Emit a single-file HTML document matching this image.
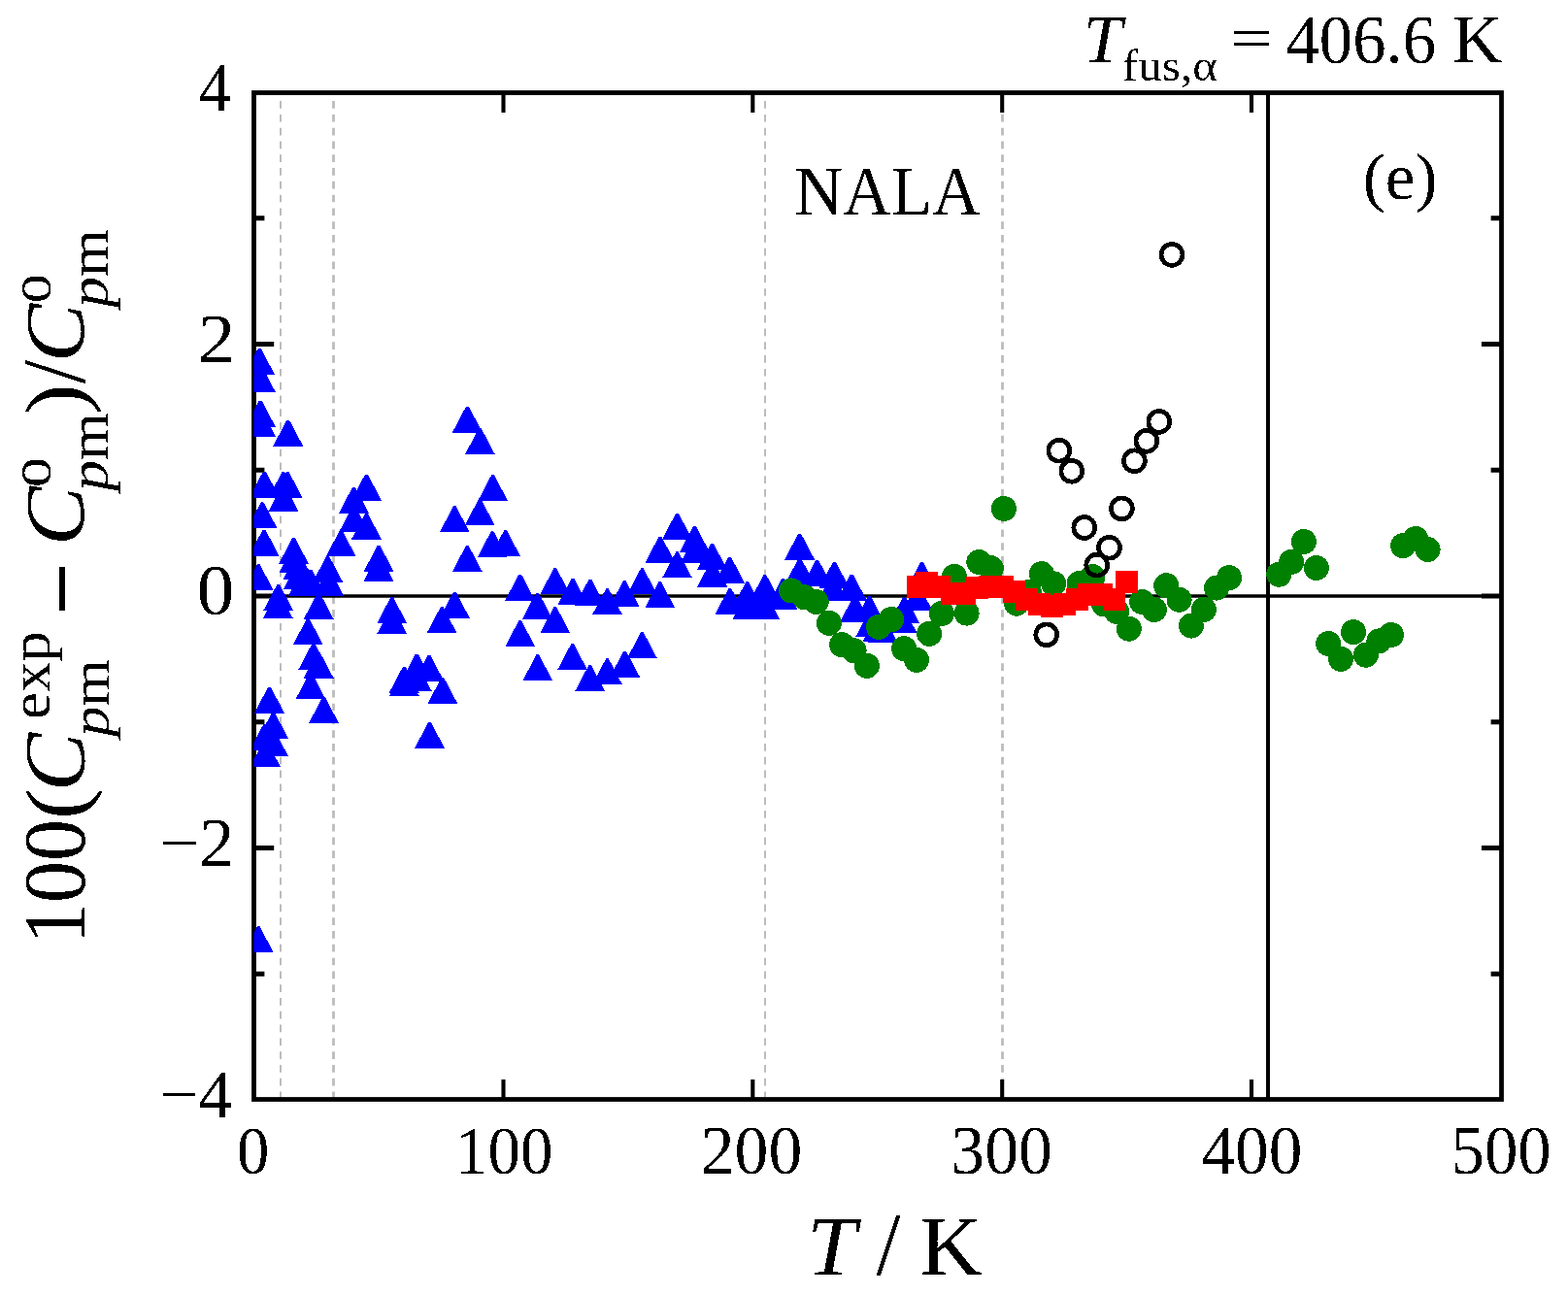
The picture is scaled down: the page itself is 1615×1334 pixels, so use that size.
<!DOCTYPE html><html><head><meta charset="utf-8"><title>NALA heat capacity deviations</title>
<style>html,body{margin:0;padding:0;background:#fff;}svg{display:block;}text{font-family:"Liberation Serif","Times New Roman",serif;fill:#000;}</style></head><body>
<svg width="1615" height="1334" viewBox="0 0 1615 1334">
<rect x="0" y="0" width="1615" height="1334" fill="#fff"/>
<defs><clipPath id="pa"><rect x="261.5" y="95.5" width="1285" height="1037"/></clipPath><filter id="al" x="0" y="0" width="1615" height="1334" filterUnits="userSpaceOnUse"><feComponentTransfer><feFuncA type="discrete" tableValues="0 1"/></feComponentTransfer></filter></defs>
<line x1="289.0" y1="104.1" x2="289.0" y2="1130" stroke="#bcbcbc" stroke-width="2.0" stroke-dasharray="7.7 6.09"/>
<line x1="343.5" y1="104.1" x2="343.5" y2="1130" stroke="#bcbcbc" stroke-width="2.8" stroke-dasharray="7.7 6.09"/>
<line x1="788.0" y1="104.1" x2="788.0" y2="1130" stroke="#bcbcbc" stroke-width="2.0" stroke-dasharray="7.7 6.09"/>
<line x1="1032.5" y1="104.1" x2="1032.5" y2="1130" stroke="#bcbcbc" stroke-width="2.8" stroke-dasharray="7.7 6.09"/>
<line x1="261.5" y1="614" x2="1546.5" y2="614" stroke="#000" stroke-width="3.7"/>
<line x1="1306" y1="95.5" x2="1306" y2="1132.5" stroke="#000" stroke-width="4"/>
<path d="M518.5 95.5V116 M518.5 1132.5V1112 M775.3 95.5V116 M775.3 1132.5V1112 M1032.2 95.5V116 M1032.2 1132.5V1112 M1289.0 95.5V116 M1289.0 1132.5V1112" stroke="#000" stroke-width="4.1" fill="none"/>
<path d="M261.5 354.50H282.2 M1546.5 354.50H1525.9 M261.5 614.00H282.2 M1546.5 614.00H1525.9 M261.5 873.50H282.2 M1546.5 873.50H1525.9 M261.5 224.75H272.4 M1546.5 224.75H1535.6 M261.5 484.25H272.4 M1546.5 484.25H1535.6 M261.5 743.75H272.4 M1546.5 743.75H1535.6 M261.5 1003.25H272.4 M1546.5 1003.25H1535.6" stroke="#000" stroke-width="4.9" fill="none"/>
<rect x="261.5" y="95.5" width="1285.0" height="1037.0" fill="none" stroke="#000" stroke-width="4.8"/>
<g clip-path="url(#pa)" shape-rendering="crispEdges">
<path d="M251.8 385.6H282.8L268.6 358.6H266.0ZM252.7 403.7H283.7L269.5 376.7H266.9ZM252.7 439.5H283.7L269.5 412.5H266.9ZM252.9 449.6H283.9L269.7 422.6H267.1ZM281.2 459.6H312.2L298.0 432.6H295.4ZM465.9 445.5H496.9L482.7 418.5H480.1ZM478.9 468.2H509.9L495.7 441.2H493.1ZM256.9 512.5H287.9L273.7 485.5H271.1ZM276.3 513.0H307.3L293.1 486.0H290.5ZM280.9 513.3H311.9L297.7 486.3H295.1ZM276.5 526.5H307.5L293.3 499.5H290.7ZM254.6 544.3H285.6L271.4 517.3H268.8ZM361.9 515.5H392.9L378.7 488.5H376.1ZM349.0 528.5H380.0L365.8 501.5H363.2ZM452.8 548.3H483.8L469.6 521.3H467.0ZM256.5 572.5H287.5L273.3 545.5H270.7ZM250.7 608.1H281.7L267.5 581.1H264.9ZM287.0 581.0H318.0L303.8 554.0H301.2ZM287.2 590.3H318.2L304.0 563.3H301.4ZM291.8 596.5H322.8L308.6 569.5H306.0ZM291.8 607.3H322.8L308.6 580.3H306.0ZM297.2 613.5H328.2L314.0 586.5H311.4ZM322.1 599.6H353.1L338.9 572.6H336.3ZM323.0 613.5H354.0L339.8 586.5H337.2ZM335.7 573.3H366.7L352.5 546.3H349.9ZM361.9 555.6H392.9L378.7 528.6H376.1ZM349.0 548.3H380.0L365.8 521.3H363.2ZM374.6 588.8H405.6L391.4 561.8H388.8ZM374.6 598.8H405.6L391.4 571.8H388.8ZM465.8 589.0H496.8L482.6 562.0H480.0ZM271.2 629.0H302.2L288.0 602.0H285.4ZM270.9 637.2H301.9L287.7 610.2H285.1ZM312.7 637.8H343.7L329.5 610.8H326.9ZM301.8 664.2H332.8L318.6 637.2H316.0ZM307.3 689.8H338.3L324.1 662.8H321.5ZM312.7 698.7H343.7L329.5 671.7H326.9ZM304.5 720.3H335.5L321.3 693.3H318.7ZM262.0 734.7H293.0L278.8 707.7H276.2ZM388.2 642.2H419.2L405.0 615.2H402.4ZM388.2 653.0H419.2L405.0 626.0H402.4ZM452.8 636.7H483.8L469.6 609.7H467.0ZM439.6 652.2H470.6L456.4 625.2H453.8ZM413.8 700.5H444.8L430.6 673.5H428.0ZM426.5 702.0H457.5L443.3 675.0H440.7ZM400.9 713.5H431.9L417.7 686.5H415.1ZM413.7 711.8H444.7L430.5 684.8H427.9ZM400.9 717.2H431.9L417.7 690.2H415.1ZM440.4 725.0H471.4L457.2 698.0H454.6ZM266.0 760.7H297.0L282.8 733.7H280.2ZM257.3 772.7H288.3L274.1 745.7H271.5ZM265.8 778.7H296.8L282.6 751.7H280.0ZM257.7 789.5H288.7L274.5 762.5H271.9ZM318.0 745.0H349.0L334.8 718.0H332.2ZM427.0 770.9H458.0L443.8 743.9H441.2ZM250.8 981.4H281.8L267.6 954.4H265.0ZM492.1 516.1H523.1L508.9 489.1H506.3ZM478.7 541.2H509.7L495.5 514.2H492.9ZM491.6 574.3H522.6L508.4 547.3H505.8ZM505.1 573.2H536.1L521.9 546.2H519.3ZM520.2 618.6H551.2L537.0 591.6H534.4ZM556.3 612.2H587.3L573.1 585.2H570.5ZM574.4 622.8H605.4L591.2 595.8H588.6ZM592.4 623.6H623.4L609.2 596.6H606.6ZM610.0 633.3H641.0L626.8 606.3H624.2ZM627.8 625.1H658.8L644.6 598.1H642.0ZM645.9 612.4H676.9L662.7 585.4H660.1ZM664.2 626.4H695.2L681.0 599.4H678.4ZM538.0 637.5H569.0L554.8 610.5H552.2ZM556.3 652.0H587.3L573.1 625.0H570.5ZM520.2 666.2H551.2L537.0 639.2H534.4ZM538.3 701.3H569.3L555.1 674.3H552.5ZM574.1 690.2H605.1L590.9 663.2H588.3ZM592.2 712.1H623.2L609.0 685.1H606.4ZM610.0 705.3H641.0L626.8 678.3H624.2ZM628.1 697.6H659.1L644.9 670.6H642.3ZM645.9 678.2H676.9L662.7 651.2H660.1ZM682.0 555.6H713.0L698.8 528.6H696.2ZM699.9 568.8H730.9L716.7 541.8H714.1ZM664.5 579.6H695.5L681.3 552.6H678.7ZM682.0 595.4H713.0L698.8 568.4H696.2ZM718.0 586.7H749.0L734.8 559.7H732.2ZM718.1 604.5H749.1L734.9 577.5H732.3ZM701.0 579.7H732.0L717.8 552.7H715.2ZM736.0 600.5H767.0L752.8 573.5H750.2ZM754.2 626.2H785.2L771.0 599.2H768.4ZM772.4 619.0H803.4L789.2 592.0H786.6ZM736.4 633.0H767.4L753.2 606.0H750.6ZM754.2 638.4H785.2L771.0 611.4H768.4ZM771.9 637.6H802.9L788.7 610.6H786.1ZM790.5 628.0H821.5L807.3 601.0H804.7ZM808.1 576.5H839.1L824.9 549.5H822.3ZM808.3 602.0H839.3L825.1 575.0H822.5ZM826.1 603.6H857.1L842.9 576.6H840.3ZM843.9 605.6H874.9L860.7 578.6H858.1ZM861.8 618.5H892.8L878.6 591.5H876.0ZM865.1 640.6H896.1L881.9 613.6H879.3ZM880.0 641.0H911.0L896.8 614.0H894.2ZM916.0 641.7H947.0L932.8 614.7H930.2ZM888.5 661.2H919.5L905.3 634.2H902.7ZM842.1 618.8H873.1L858.9 591.8H856.3ZM791.0 623.0H822.0L807.8 596.0H805.2ZM881.2 656.1H912.2L898.0 629.1H895.4ZM893.5 661.8H924.5L910.3 634.8H907.7ZM304.5 613.7H335.5L321.3 586.7H318.7ZM934.0 606.0H965.0L950.8 579.0H948.2ZM929.7 629.4H960.7L946.5 602.4H943.9ZM913.2 651.5H944.2L930.0 624.5H927.4Z" fill="#0000ff"/>
<g fill="#008000">
<circle cx="815.2" cy="608.4" r="13"/>
<circle cx="828.5" cy="615.2" r="13"/>
<circle cx="840.7" cy="620" r="13"/>
<circle cx="853.9" cy="641.8" r="13"/>
<circle cx="867.1" cy="664.2" r="13"/>
<circle cx="879.6" cy="670.2" r="13"/>
<circle cx="892.9" cy="685.8" r="13"/>
<circle cx="905" cy="645.9" r="13"/>
<circle cx="918.1" cy="638" r="13"/>
<circle cx="931.1" cy="668.2" r="13"/>
<circle cx="944" cy="679.8" r="13"/>
<circle cx="957.1" cy="652.8" r="13"/>
<circle cx="970" cy="632" r="13"/>
<circle cx="982.9" cy="593.9" r="13"/>
<circle cx="995.6" cy="631.6" r="13"/>
<circle cx="1008.3" cy="579" r="13"/>
<circle cx="1020.8" cy="585.2" r="13"/>
<circle cx="1034" cy="524" r="13"/>
<circle cx="1047" cy="621.7" r="13"/>
<circle cx="1060" cy="610" r="13"/>
<circle cx="1072.8" cy="591.1" r="13"/>
<circle cx="1085.2" cy="601.3" r="13"/>
<circle cx="1111.7" cy="601" r="13"/>
<circle cx="1125.4" cy="594" r="13"/>
<circle cx="1137.1" cy="622.4" r="13"/>
<circle cx="1150.2" cy="630" r="13"/>
<circle cx="1162.8" cy="647.7" r="13"/>
<circle cx="1176.2" cy="620" r="13"/>
<circle cx="1188.8" cy="628" r="13"/>
<circle cx="1201.2" cy="603.2" r="13"/>
<circle cx="1214.6" cy="617.8" r="13"/>
<circle cx="1226.9" cy="644.6" r="13"/>
<circle cx="1239.9" cy="628" r="13"/>
<circle cx="1253" cy="605.6" r="13"/>
<circle cx="1266" cy="595.1" r="13"/>
<circle cx="1317.3" cy="591.7" r="13"/>
<circle cx="1330.1" cy="578.9" r="13"/>
<circle cx="1342.9" cy="558" r="13"/>
<circle cx="1355.8" cy="585" r="13"/>
<circle cx="1368.2" cy="663" r="13"/>
<circle cx="1381" cy="678.8" r="13"/>
<circle cx="1394" cy="651.1" r="13"/>
<circle cx="1406.9" cy="674.7" r="13"/>
<circle cx="1420.4" cy="660.4" r="13"/>
<circle cx="1433" cy="654" r="13"/>
<circle cx="1445.1" cy="562.1" r="13"/>
<circle cx="1458.1" cy="555" r="13"/>
<circle cx="1470.6" cy="566" r="13"/>
</g>
<g fill="none" stroke="#000" stroke-width="4.7">
<circle cx="1207" cy="262.4" r="10.95"/>
<circle cx="1090.8" cy="464.2" r="10.95"/>
<circle cx="1103.8" cy="485.3" r="10.95"/>
<circle cx="1193.8" cy="434.4" r="10.95"/>
<circle cx="1180.9" cy="454.3" r="10.95"/>
<circle cx="1168.4" cy="474.8" r="10.95"/>
<circle cx="1155.4" cy="523.9" r="10.95"/>
<circle cx="1116.8" cy="543.5" r="10.95"/>
<circle cx="1142.5" cy="564.2" r="10.95"/>
<circle cx="1129.7" cy="582.1" r="10.95"/>
<circle cx="1077.7" cy="653.9" r="10.95"/>
</g>
<g fill="#ff0000">
<rect x="933.9" y="593.0" width="23" height="23"/>
<rect x="943.4" y="589.0" width="23" height="23"/>
<rect x="955.9" y="593.1" width="23" height="23"/>
<rect x="968.8" y="599.8" width="23" height="23"/>
<rect x="981.9" y="599.7" width="23" height="23"/>
<rect x="995.0" y="594.2" width="23" height="23"/>
<rect x="1008.0" y="593.0" width="23" height="23"/>
<rect x="1020.9" y="593.0" width="23" height="23"/>
<rect x="1033.0" y="598.0" width="23" height="23"/>
<rect x="1045.7" y="606.1" width="23" height="23"/>
<rect x="1059.0" y="610.7" width="23" height="23"/>
<rect x="1071.8" y="612.6" width="23" height="23"/>
<rect x="1085.0" y="610.9" width="23" height="23"/>
<rect x="1097.8" y="605.9" width="23" height="23"/>
<rect x="1109.9" y="600.9" width="23" height="23"/>
<rect x="1122.8" y="600.9" width="23" height="23"/>
<rect x="1135.8" y="606.1" width="23" height="23"/>
<rect x="1149.0" y="587.8" width="23" height="23"/>
</g>
</g>
<g filter="url(#al)">
<g transform="translate(1115.83,64.20) scale(1.0541,1.0341)"><text font-size="68" font-style="italic">T</text></g>
<g transform="translate(1156.08,82.74) scale(1.0202,0.9659)"><text font-size="48">fus,α</text></g>
<g transform="translate(1267.62,59.41) scale(1.1250,0.8647)"><text font-size="68">=</text></g>
<g transform="translate(1324.49,64.60) scale(1.0113,1.0659)"><text font-size="68">406.6</text></g>
<g transform="translate(1495.70,63.80) scale(1.0500,1.0205)"><text font-size="68">K</text></g>
<g transform="translate(818.17,221.30) scale(1.0156,1.0477)"><text font-size="68">NALA</text></g>
<g transform="translate(1403.64,204.80) scale(1.0188,1.0000)"><text font-size="68">(e)</text></g>
<g transform="translate(205.09,113.80) scale(0.9118,0.9957)"><text font-size="72">4</text></g>
<g transform="translate(203.68,373.00) scale(1.0724,1.0021)"><text font-size="72">2</text></g>
<g transform="translate(202.69,633.00) scale(1.0700,1.0277)"><text font-size="72">0</text></g>
<g transform="translate(164.58,891.90) scale(1.0043,0.9915)"><text font-size="72">−2</text></g>
<g transform="translate(164.71,1150.50) scale(0.9718,0.9723)"><text font-size="72">−4</text></g>
<g transform="translate(244.10,1208.90) scale(0.9655,1.0174)"><text font-size="69">0</text></g>
<g transform="translate(468.86,1208.70) scale(0.9737,1.0196)"><text font-size="69">100</text></g>
<g transform="translate(721.77,1209.40) scale(1.0102,1.0500)"><text font-size="69">200</text></g>
<g transform="translate(979.37,1209.40) scale(1.0102,1.0500)"><text font-size="69">300</text></g>
<g transform="translate(1237.50,1209.00) scale(1.0030,1.0413)"><text font-size="69">400</text></g>
<g transform="translate(1494.62,1209.40) scale(0.9959,1.0500)"><text font-size="69">500</text></g>
<g transform="translate(830.88,1312.80) scale(1.0375,0.9966)"><text font-size="88" font-style="italic">T</text></g>
<g transform="translate(902.20,1312.95) scale(1.0333,1.0508)"><text font-size="88">/</text></g>
<g transform="translate(946.95,1312.80) scale(1.0167,0.9966)"><text font-size="88">K</text></g>
<g transform="translate(87.37,973.01) rotate(-90) scale(0.9769,1.0271)"><text font-size="88">100</text></g>
<g transform="translate(87.04,844.36) rotate(-90) scale(1.0909,0.9810)"><text font-size="88">(</text></g>
<g transform="translate(86.10,815.12) rotate(-90) scale(1.0241,1.0000)"><text font-size="88" font-style="italic">C</text></g>
<g transform="translate(51.35,740.89) rotate(-90) scale(1.0293,0.9810)"><text font-size="61">exp</text></g>
<g transform="translate(111.60,759.11) rotate(-90) scale(1.0312,0.9381)"><text font-size="61"><tspan font-style="italic">p</tspan>m</text></g>
<g transform="translate(102.20,634.04) rotate(-90) scale(1.1098,1.3000)"><text font-size="88">−</text></g>
<g transform="translate(85.52,561.99) rotate(-90) scale(1.0370,0.9900)"><text font-size="88" font-style="italic">C</text></g>
<g transform="translate(52.00,502.12) rotate(-90) scale(1.0115,1.0000)"><text font-size="61">o</text></g>
<g transform="translate(111.18,505.79) rotate(-90) scale(1.0375,0.9786)"><text font-size="61"><tspan font-style="italic">p</tspan>m</text></g>
<g transform="translate(86.25,427.13) rotate(-90) scale(1.0773,0.9762)"><text font-size="88">)</text></g>
<g transform="translate(87.15,395.40) rotate(-90) scale(1.0125,1.0542)"><text font-size="88">/</text></g>
<g transform="translate(85.52,372.93) rotate(-90) scale(1.0259,0.9900)"><text font-size="88" font-style="italic">C</text></g>
<g transform="translate(52.00,312.37) rotate(-90) scale(0.9846,1.0000)"><text font-size="61">o</text></g>
<g transform="translate(111.18,316.79) rotate(-90) scale(1.0375,0.9786)"><text font-size="61"><tspan font-style="italic">p</tspan>m</text></g>
</g>
</svg></body></html>
